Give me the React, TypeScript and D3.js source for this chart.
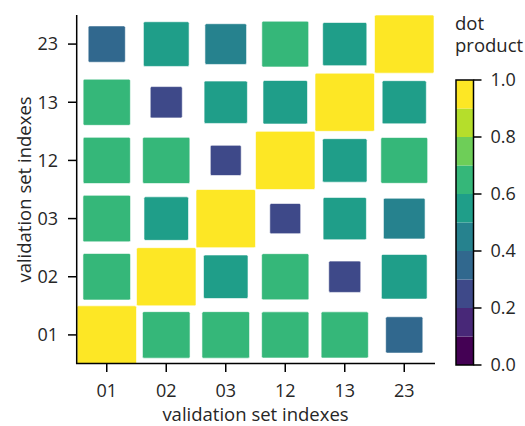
import React from "react";
import * as d3 from "d3";

const labels = ["01", "02", "03", "12", "13", "23"];
// rows follow labels order (row label on y axis, column on x axis)
const row01 = [1.0, 0.64, 0.64, 0.63, 0.63, 0.39];
const row02 = [0.64, 1.0, 0.56, 0.63, 0.29, 0.59];
const row03 = [0.64, 0.56, 1.0, 0.27, 0.53, 0.49];
const row12 = [0.63, 0.63, 0.27, 1.0, 0.56, 0.62];
const row13 = [0.63, 0.29, 0.53, 0.56, 1.0, 0.55];
const row23 = [0.39, 0.59, 0.49, 0.62, 0.55, 1.0];
const matrix = [row01, row02, row03, row12, row13, row23];
const colorbarTicks = [0, 0.2, 0.4, 0.6, 0.8, 1.0];
const axisTitle = "validation set indexes";
const cbarTitle = ["dot", "product"];

const W = 525, H = 426;
const left = 77, right = 434, top = 15, bottom = 364;
const font = "'Open Sans', 'Noto Sans', 'DejaVu Sans', sans-serif";
const textColor = "#262626";
const tickFont = 18;
const labelFont = 18.5;

export default function App() {
  const x = d3.scaleBand<string>().domain(labels).range([left, right]).padding(0);
  const y = d3.scaleBand<string>().domain(labels).range([bottom, top]).padding(0);
  const nBins = 10;
  const binColors = d3.range(nBins).map((i) => d3.interpolateViridis(i / (nBins - 1)));
  const color = d3.scaleQuantize<string>().domain([0, 1]).range(binColors);
  const sizeX = d3.scaleSqrt().domain([0, 1]).range([0, x.bandwidth()]);
  const sizeY = d3.scaleSqrt().domain([0, 1]).range([0, y.bandwidth()]);

  const cells: { r: string; c: string; v: number }[] = [];
  matrix.forEach((row, ri) =>
    row.forEach((v, ci) => cells.push({ r: labels[ri], c: labels[ci], v }))
  );
  cells.sort((a, b) => (a.v === 1 ? 1 : 0) - (b.v === 1 ? 1 : 0));

  const cbX = 456, cbW = 17.5, cbTop = 80, cbBottom = 365;
  const cbScale = d3.scaleLinear().domain([0, 1]).range([cbBottom, cbTop]);
  const binEdges = d3.range(nBins + 1).map((i) => i / nBins);
  const tickLen = 8;

  return (
    <svg width={W} height={H} style={{ position: "absolute", left: 0, top: 0 }} fontFamily={font}>
      <rect width={W} height={H} fill="white" />
      {cells.map((d, i) => {
        const w = sizeX(d.v);
        const h = sizeY(d.v);
        const cx = (x(d.c) as number) + x.bandwidth() / 2;
        const cy = (y(d.r) as number) + y.bandwidth() / 2;
        return (
          <rect
            key={i}
            x={cx - w / 2}
            y={cy - h / 2}
            width={w}
            height={h}
            rx={1.5}
            fill={color(d.v)}
            stroke="white"
            strokeOpacity={0.6}
            strokeWidth={1}
          />
        );
      })}
      <line x1={left - 0.3} x2={left - 0.3} y1={top} y2={bottom} stroke="black" strokeWidth={1.5} />
      <line x1={left - 1} x2={right + 1} y1={bottom - 0.5} y2={bottom - 0.5} stroke="black" strokeWidth={1.5} />
      {labels.map((l) => {
        const cx = (x(l) as number) + x.bandwidth() / 2;
        return (
          <g key={"x" + l}>
            <line x1={cx} x2={cx} y1={bottom} y2={bottom + tickLen} stroke="black" strokeWidth={1.5} />
            <text x={cx} y={bottom + 32.5} textAnchor="middle" fontSize={tickFont} fill={textColor}>
              {l}
            </text>
          </g>
        );
      })}
      {labels.map((l) => {
        const cy = (y(l) as number) + y.bandwidth() / 2;
        return (
          <g key={"y" + l}>
            <line x1={left - tickLen - 1} x2={left} y1={cy} y2={cy} stroke="black" strokeWidth={1.5} />
            <text x={left - tickLen - 11} y={cy} dy="0.35em" textAnchor="end" fontSize={tickFont} fill={textColor}>
              {l}
            </text>
          </g>
        );
      })}
      <text x={(left + right) / 2} y={421} textAnchor="middle" fontSize={labelFont} fill={textColor}>
        {axisTitle}
      </text>
      <text
        transform={`translate(${31},${(top + bottom) / 2}) rotate(-90)`}
        textAnchor="middle"
        fontSize={labelFont}
        fill={textColor}
      >
        {axisTitle}
      </text>
      {d3.range(nBins).map((i) => (
        <rect
          key={"cb" + i}
          x={cbX}
          y={cbScale(binEdges[i + 1])}
          width={cbW}
          height={cbScale(binEdges[i]) - cbScale(binEdges[i + 1])}
          fill={binColors[i]}
        />
      ))}
      <rect x={cbX} y={cbTop} width={cbW} height={cbBottom - cbTop} fill="none" stroke="black" strokeWidth={1.5} />
      {colorbarTicks.map((t) => (
        <g key={"cbt" + t}>
          <line x1={cbX + cbW} x2={cbX + cbW + tickLen} y1={cbScale(t)} y2={cbScale(t)} stroke="black" strokeWidth={1.5} />
          <text x={cbX + cbW + 17} y={cbScale(t)} dy="0.35em" fontSize={tickFont} fill={textColor}>
            {t.toFixed(1)}
          </text>
        </g>
      ))}
      <text x={cbX - 1} y={30} fontSize={labelFont} fill={textColor}>
        {cbarTitle.map((s, i) => (
          <tspan key={s} x={cbX - 1} dy={i === 0 ? 0 : 22}>
            {s}
          </tspan>
        ))}
      </text>
    </svg>
  );
}
